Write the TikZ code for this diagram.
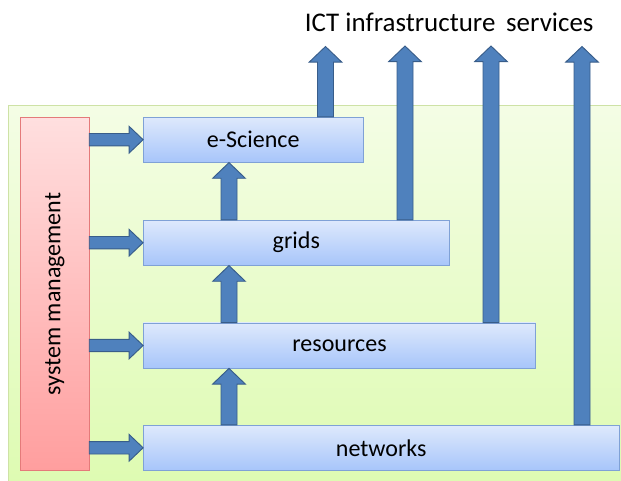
\documentclass[tikz,border=0pt]{standalone}
\usepackage{fontspec}
\setmainfont{Carlito}
\usepackage{tikz}
\usetikzlibrary{calc}
\usepackage{xcolor}
\definecolor{boxtop}{RGB}{222,233,252}
\definecolor{boxbot}{RGB}{167,197,250}
\definecolor{boxline}{RGB}{127,161,214}
\definecolor{redtop}{RGB}{255,223,223}
\definecolor{redbot}{RGB}{255,158,158}
\definecolor{redline}{RGB}{228,122,122}
\definecolor{greentop}{RGB}{244,253,229}
\definecolor{greenbot}{RGB}{222,251,178}
\definecolor{greenline}{RGB}{206,226,166}
\definecolor{arrowfill}{RGB}{79,129,189}
\definecolor{arrowline}{RGB}{56,93,138}
\tikzstyle{layer} = [draw=boxline, top color=boxtop, bottom color=boxbot, rectangle, minimum height=1.36cm, font=\fontsize{20.5}{24}\selectfont]
\tikzstyle{sidebar} = [draw=redline, top color=redtop, bottom color=redbot, rectangle, minimum width=2.05cm, minimum height=10.6cm]
\tikzstyle{bluearrow} = [draw=arrowline, fill=arrowfill, thick, line join=miter]
% thick block arrows: #1 = base, #2 = tip
\newcommand{\fatup}[2]{%
    \filldraw[bluearrow] ($(#1)+(-0.24cm,0)$) -- ($(#2)+(-0.24cm,-0.47cm)$) -- ($(#2)+(-0.49cm,-0.47cm)$)
        -- (#2) -- ($(#2)+(0.49cm,-0.47cm)$) -- ($(#2)+(0.24cm,-0.47cm)$) -- ($(#1)+(0.24cm,0)$) -- cycle;}
\newcommand{\fatright}[2]{%
    \filldraw[bluearrow] ($(#1)+(0,0.186cm)$) -- ($(#2)+(-0.42cm,0.186cm)$) -- ($(#2)+(-0.42cm,0.4cm)$)
        -- (#2) -- ($(#2)+(-0.42cm,-0.4cm)$) -- ($(#2)+(-0.42cm,-0.186cm)$) -- ($(#1)+(0,-0.186cm)$) -- cycle;}

\begin{document}
\begin{tikzpicture}[x=0.03cm, y=-0.03cm]
\useasboundingbox (0,0) rectangle (621,481);
% green background
\shade[top color=greentop, bottom color=greenbot] (8.7,105.7) rectangle (622,482);
\draw[greenline, thick] (622,105.7) -- (8.7,105.7) -- (8.7,482);

\node[font=\fontsize{23}{27}\selectfont, anchor=base] (title) at (449.2,31.2) {ICT infrastructure\hspace{0.4em}services};

\node[sidebar] (sysmgmt) at (54.85,294) {};
\node[rotate=90, font=\fontsize{20.5}{24}\selectfont] (syslabel) at (sysmgmt.center) {system management};

\node[layer, minimum width=6.59cm] (escience) at (253.2,139.7) {e-Science};
\node[layer, minimum width=9.18cm] (grids) at (296.3,242.7) {grids};
\node[layer, minimum width=11.77cm] (resources) at (339.5,345.5) {resources};
\node[layer, minimum width=14.27cm] (networks) at (381.2,447.8) {networks};

% columns of the arrows
\coordinate (stack) at (229,0);
\coordinate (out1) at (325.5,46.5);
\coordinate (out2) at (405,46);
\coordinate (out3) at (491,46);
\coordinate (out4) at (582,46.5);

% management arrows
\fatright{sysmgmt.east |- escience.west}{escience.west}
\fatright{sysmgmt.east |- grids.west}{grids.west}
\fatright{sysmgmt.east |- resources.west}{resources.west}
\fatright{sysmgmt.east |- networks.west}{networks.west}

% layers on top of each other
\fatup{networks.north -| stack}{resources.south -| stack}
\fatup{resources.north -| stack}{grids.south -| stack}
\fatup{grids.north -| stack}{escience.south -| stack}

% services going out
\fatup{escience.north -| out1}{out1}
\fatup{grids.north -| out2}{out2}
\fatup{resources.north -| out3}{out3}
\fatup{networks.north -| out4}{out4}
\end{tikzpicture}
\end{document}
